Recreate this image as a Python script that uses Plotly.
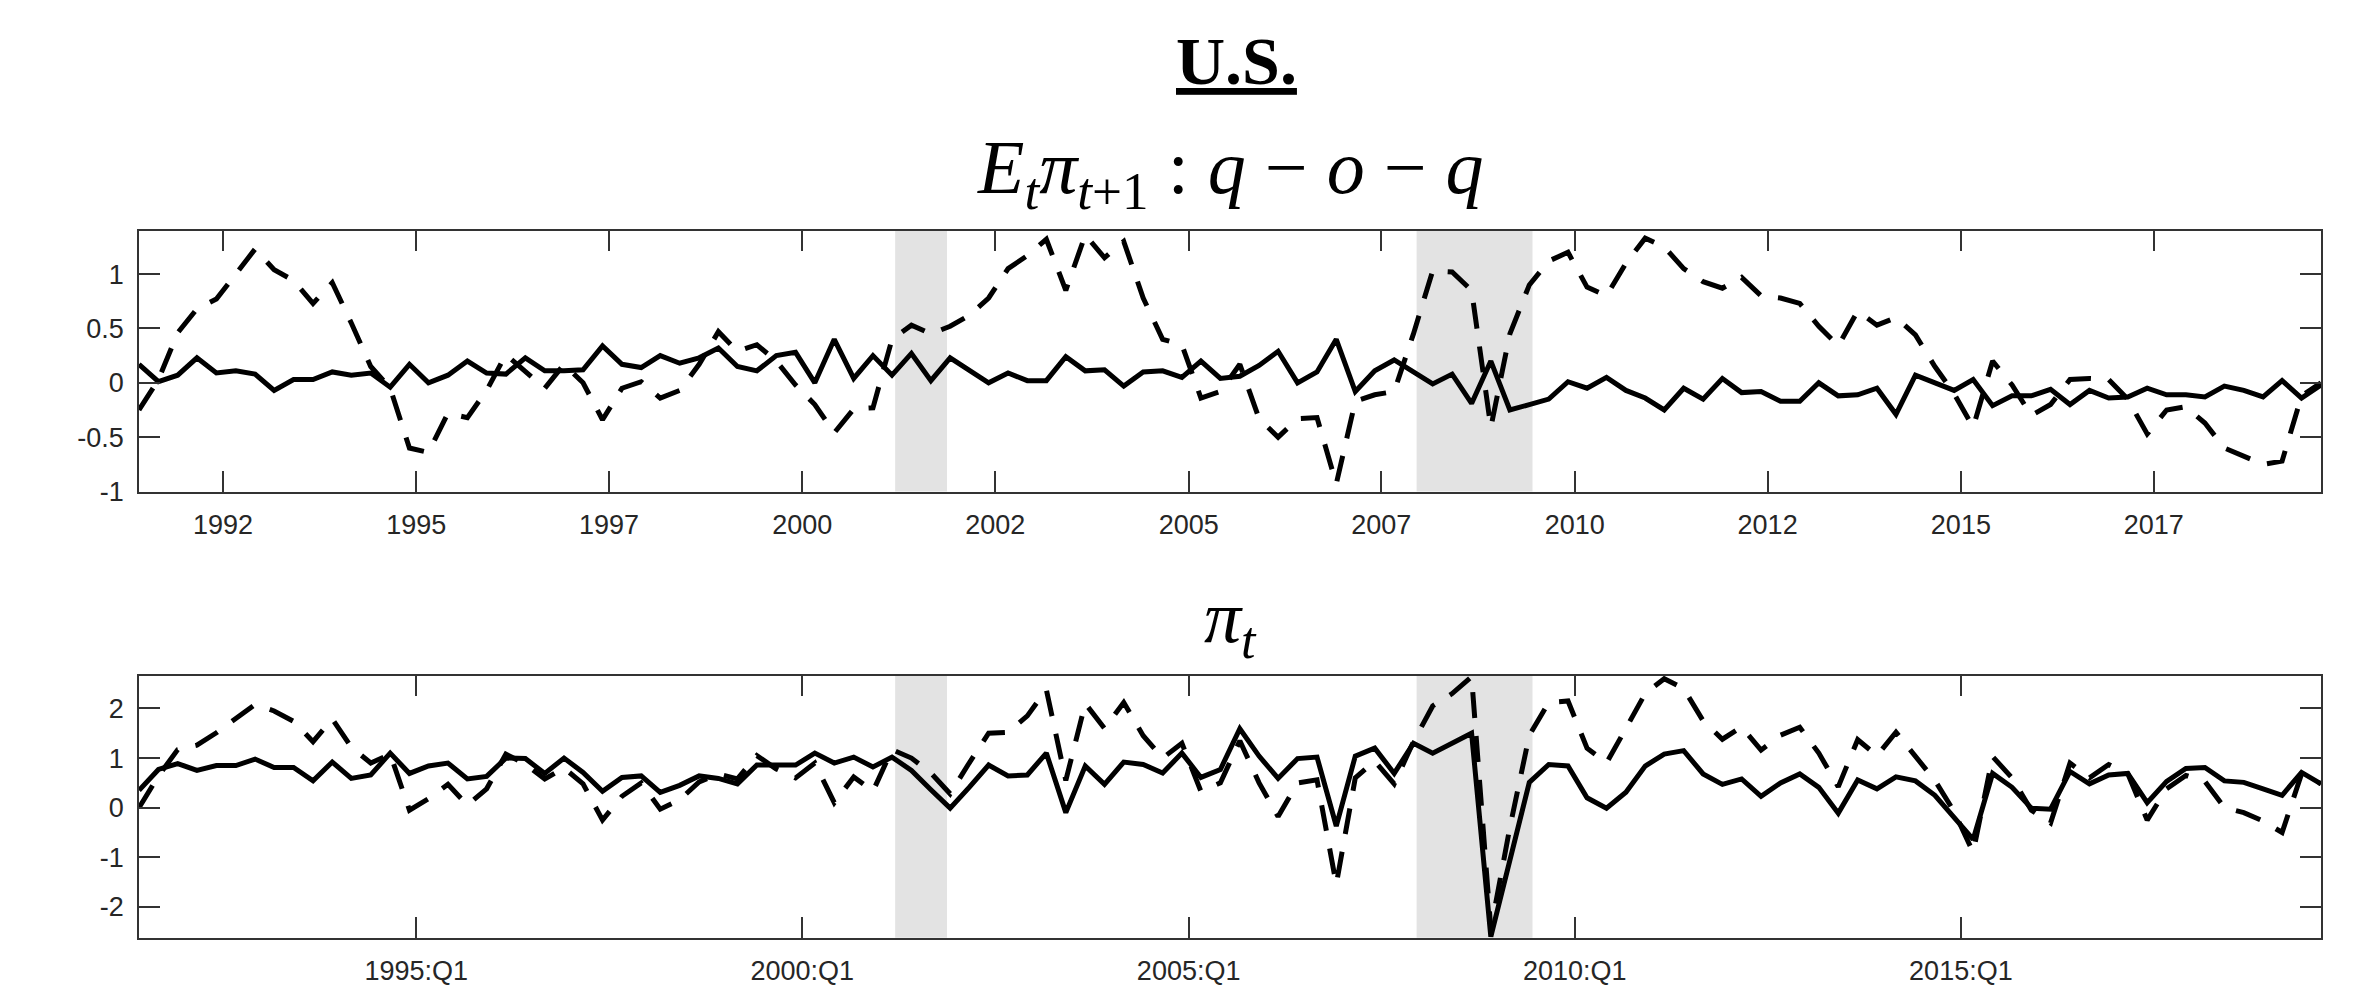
import pandas as pd
import plotly.graph_objects as go

# ---------------- data ----------------
quarters = pd.period_range("1991Q2", "2019Q3", freq="Q")

# E_t pi_{t+1}: q-o-q
exp_solid = [0.17, 0.01, 0.07, 0.23, 0.09, 0.11, 0.08, -0.07, 0.03, 0.03,
             0.10, 0.07, 0.09, -0.04, 0.17, 0.00, 0.07, 0.20, 0.09, 0.08,
             0.23, 0.11, 0.11, 0.12, 0.34, 0.17, 0.14, 0.25, 0.18, 0.23,
             0.32, 0.15, 0.11, 0.25, 0.28, 0.00, 0.40, 0.04, 0.25, 0.07,
             0.27, 0.02, 0.23, 0.11, 0.00, 0.09, 0.02, 0.02, 0.24, 0.11,
             0.12, -0.03, 0.10, 0.11, 0.05, 0.20, 0.04, 0.06, 0.16, 0.29,
             0.00, 0.10, 0.40, -0.08, 0.11, 0.21, 0.10, -0.01, 0.08, -0.19,
             0.20, -0.25, -0.20, -0.15, 0.01, -0.05, 0.05, -0.07, -0.14, -0.25,
             -0.05, -0.15, 0.04, -0.09, -0.08, -0.17, -0.17, 0.00, -0.12, -0.11,
             -0.05, -0.29, 0.07, 0.00, -0.07, 0.03, -0.21, -0.12, -0.12, -0.06,
             -0.20, -0.07, -0.14, -0.13, -0.05, -0.11, -0.11, -0.13, -0.03, -0.07,
             -0.13, 0.02, -0.14, -0.02]
exp_dashed = [-0.25, 0.03, 0.46, 0.68, 0.77, 1.01, 1.23, 1.04, 0.94, 0.73,
              0.92, 0.55, 0.15, -0.05, -0.60, -0.64, -0.28, -0.32, -0.07, 0.26,
              0.11, -0.05, 0.17, 0.00, -0.34, -0.05, 0.01, -0.14, -0.07, 0.17,
              0.47, 0.29, 0.35, 0.20, -0.02, -0.20, -0.46, -0.24, -0.23, 0.40,
              0.53, 0.45, 0.52, 0.62, 0.78, 1.05, 1.17, 1.32, 0.85, 1.36,
              1.15, 1.30, 0.78, 0.40, 0.35, -0.14, -0.08, 0.17, -0.33, -0.50,
              -0.33, -0.32, -0.93, -0.17, -0.11, -0.08, 0.45, 1.03, 1.02, 0.85,
              -0.41, 0.45, 0.90, 1.12, 1.20, 0.88, 0.80, 1.10, 1.33, 1.25,
              1.05, 0.93, 0.87, 0.97, 0.80, 0.78, 0.73, 0.52, 0.34, 0.66,
              0.53, 0.60, 0.44, 0.15, -0.10, -0.41, 0.20, -0.02, -0.30, -0.20,
              0.03, 0.04, 0.03, -0.15, -0.47, -0.25, -0.22, -0.37, -0.60, -0.68,
              -0.75, -0.72, -0.12, 0.00]

# pi_t
inf_solid = [0.35, 0.77, 0.89, 0.75, 0.85, 0.85, 0.98, 0.81, 0.81, 0.54,
             0.92, 0.59, 0.66, 1.10, 0.69, 0.84, 0.90, 0.58, 0.63, 1.00,
             0.99, 0.69, 1.00, 0.71, 0.33, 0.61, 0.64, 0.31, 0.45, 0.64,
             0.59, 0.48, 0.86, 0.86, 0.86, 1.10, 0.90, 1.02, 0.82, 1.02,
             0.75, 0.36, -0.01, 0.41, 0.86, 0.64, 0.66, 1.10, -0.10, 0.84,
             0.47, 0.92, 0.87, 0.70, 1.10, 0.61, 0.77, 1.59, 1.04, 0.59,
             0.99, 1.02, -0.37, 1.04, 1.20, 0.69, 1.30, 1.10, 1.30, 1.50,
             -2.60, -1.10, 0.51, 0.87, 0.84, 0.20, -0.01, 0.31, 0.84, 1.08,
             1.15, 0.68, 0.47, 0.58, 0.23, 0.50, 0.68, 0.41, -0.11, 0.56,
             0.38, 0.62, 0.54, 0.25, -0.21, -0.64, 0.69, 0.41, -0.01, -0.03,
             0.73, 0.48, 0.66, 0.69, 0.10, 0.53, 0.79, 0.81, 0.54, 0.51,
             0.38, 0.25, 0.71, 0.48]
inf_dashed = [0.00, 0.64, 1.17, 1.26, 1.51, 1.79, 2.08, 1.95, 1.74, 1.33,
              1.79, 1.22, 0.90, 1.08, -0.05, 0.18, 0.47, 0.05, 0.38, 1.08,
              0.88, 0.58, 0.80, 0.48, -0.25, 0.23, 0.50, -0.03, 0.16, 0.52,
              0.68, 0.58, 1.05, 0.78, 0.60, 0.90, 0.10, 0.62, 0.33, 1.17,
              1.00, 0.70, 0.28, 0.90, 1.50, 1.52, 1.85, 2.38, 0.55, 2.10,
              1.60, 2.12, 1.45, 1.00, 1.30, 0.33, 0.50, 1.35, 0.50, -0.18,
              0.50, 0.56, -1.55, 0.60, 0.94, 0.48, 1.33, 2.05, 2.30, 2.64,
              -2.45, -0.40, 1.46, 2.12, 2.15, 1.20, 0.90, 1.60, 2.30, 2.60,
              2.40, 1.75, 1.38, 1.63, 1.16, 1.46, 1.62, 1.10, 0.42, 1.37,
              1.05, 1.52, 1.03, 0.55, -0.08, -0.90, 1.03, 0.60, -0.05, -0.31,
              0.90, 0.60, 0.87, 0.69, -0.25, 0.38, 0.65, 0.53, 0.00, -0.10,
              -0.27, -0.50, 0.68, 0.48]

recessions = [("2001-03-15", "2001-11-15"), ("2007-12-15", "2009-06-15")]

top_tickvals = ["1992-07-01", "1995-01-01", "1997-07-01", "2000-01-01", "2002-07-01",
                "2005-01-01", "2007-07-01", "2010-01-01", "2012-07-01", "2015-01-01",
                "2017-07-01"]
top_ticktext = ["1992", "1995", "1997", "2000", "2002", "2005", "2007", "2010",
                "2012", "2015", "2017"]
bot_tickvals = ["1995-01-01", "2000-01-01", "2005-01-01", "2010-01-01", "2015-01-01"]
bot_ticktext = ["1995:Q1", "2000:Q1", "2005:Q1", "2010:Q1", "2015:Q1"]

top_yvals = [-1, -0.5, 0, 0.5, 1]
top_ytext = ["-1", "-0.5", "0", "0.5", "1"]
bot_yvals = [-2, -1, 0, 1, 2]
bot_ytext = ["-2", "-1", "0", "1", "2"]

# quarter dates (end of the middle month of each quarter)
dates = [pd.Timestamp(year=p.year, month=3 * p.quarter - 1, day=1) + pd.offsets.MonthEnd(0)
         for p in quarters]

# ---------------- figure ----------------
W, H = 2354, 988
LINE_W = 5
DASH = "26px,18px"
AX_COL = "#333333"
TICK_FONT = dict(family="Liberation Sans, Arial, sans-serif", size=27, color="#262626")

fig = go.Figure()
fig.add_trace(go.Scatter(x=dates, y=exp_dashed, mode="lines", xaxis="x", yaxis="y",
                         line=dict(color="black", width=LINE_W, dash=DASH), name="dashed"))
fig.add_trace(go.Scatter(x=dates, y=exp_solid, mode="lines", xaxis="x", yaxis="y",
                         line=dict(color="black", width=LINE_W), name="solid"))
fig.add_trace(go.Scatter(x=dates, y=inf_dashed, mode="lines", xaxis="x2", yaxis="y2",
                         line=dict(color="black", width=LINE_W, dash=DASH), name="dashed"))
fig.add_trace(go.Scatter(x=dates, y=inf_solid, mode="lines", xaxis="x2", yaxis="y2",
                         line=dict(color="black", width=LINE_W), name="solid"))

for xr, yr in (("x", "y"), ("x2", "y2")):
    for a, b in recessions:
        fig.add_shape(type="rect", xref=xr, yref=f"{yr} domain", x0=a, x1=b, y0=0, y1=1,
                      fillcolor="#e3e3e3", line_width=0, layer="below")

xdom = [131 / W, 2313 / W]
common_x = dict(showgrid=False, zeroline=False, showline=True, linecolor=AX_COL, linewidth=1.5,
                mirror="ticks", ticks="inside", ticklen=21, tickwidth=1.5, tickcolor=AX_COL,
                tickfont=TICK_FONT, range=[dates[0], dates[-1]], domain=xdom,
                ticklabelstandoff=8)
common_y = dict(showgrid=False, zeroline=False, showline=True, linecolor=AX_COL, linewidth=1.5,
                mirror="ticks", ticks="inside", ticklen=21, tickwidth=1.5, tickcolor=AX_COL,
                tickfont=TICK_FONT, ticklabelstandoff=8)

fig.update_layout(
    width=W, height=H, margin=dict(l=0, r=0, t=0, b=0),
    paper_bgcolor="white", plot_bgcolor="white", showlegend=False,
    xaxis=dict(common_x, anchor="y", tickvals=top_tickvals, ticktext=top_ticktext),
    yaxis=dict(common_y, anchor="x", domain=[1 - 491 / H, 1 - 226 / H], range=[-1, 1.4],
               tickvals=top_yvals, ticktext=top_ytext),
    xaxis2=dict(common_x, anchor="y2", tickvals=bot_tickvals, ticktext=bot_ticktext),
    yaxis2=dict(common_y, anchor="x2", domain=[1 - 944 / H, 1 - 678 / H], range=[-2.62, 2.66],
                tickvals=bot_yvals, ticktext=bot_ytext),
)

xc = (xdom[0] + xdom[1]) / 2
serif = "Liberation Serif, Times New Roman, serif"
fig.add_annotation(x=xc + 6 / W, y=1 - 54 / H, xref="paper", yref="paper", showarrow=False,
                   xanchor="center", yanchor="middle",
                   text="<b><u>U.S.</u></b>", font=dict(family=serif, size=68, color="black"))
fig.add_annotation(x=xc, y=1 - 168 / H, xref="paper", yref="paper", showarrow=False,
                   xanchor="center", yanchor="middle",
                   text="<i>E</i><sub><i>t</i></sub><i>π</i><sub><i>t</i>+1</sub> : "
                        "<i>q</i> − <i>o</i> − <i>q</i>",
                   font=dict(family=serif, size=76, color="black"))
fig.add_annotation(x=xc, y=1 - 624 / H, xref="paper", yref="paper", showarrow=False,
                   xanchor="center", yanchor="middle",
                   text="<i>π</i><sub><i>t</i></sub>",
                   font=dict(family=serif, size=74, color="black"))

fig.write_html("out.html")
